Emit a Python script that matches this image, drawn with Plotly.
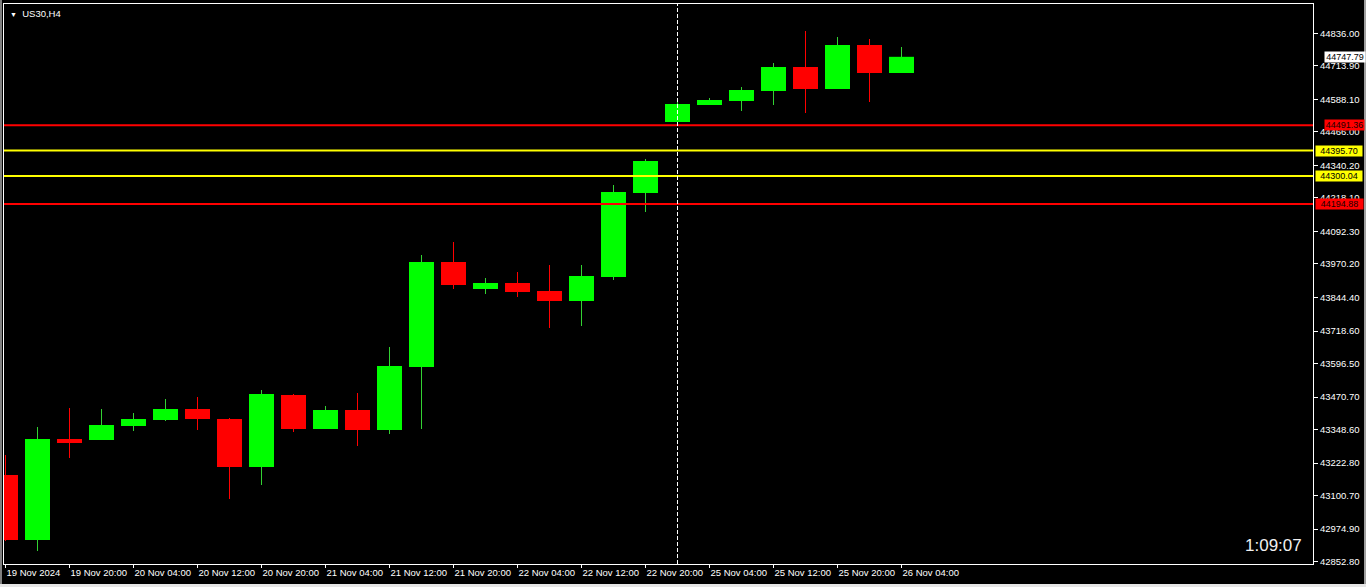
import plotly.graph_objects as go

# ---------------- data ----------------
times = ["19 Nov 12:00", "19 Nov 16:00", "19 Nov 20:00", "20 Nov 00:00", "20 Nov 04:00",
         "20 Nov 08:00", "20 Nov 12:00", "20 Nov 16:00", "20 Nov 20:00", "21 Nov 00:00",
         "21 Nov 04:00", "21 Nov 08:00", "21 Nov 12:00", "21 Nov 16:00", "21 Nov 20:00",
         "22 Nov 00:00", "22 Nov 04:00", "22 Nov 08:00", "22 Nov 12:00", "22 Nov 16:00",
         "22 Nov 20:00", "25 Nov 00:00", "25 Nov 04:00", "25 Nov 08:00", "25 Nov 12:00",
         "25 Nov 16:00", "25 Nov 20:00", "26 Nov 00:00", "26 Nov 04:00"]
opens = [43178.2, 42934.2, 43313.3, 43309.5, 43362.1, 43384.6, 43425.9, 43388.4, 43208.2, 43478.4,
         43350.8, 43422.1, 43347.1, 43583.5, 43977.6, 43876.3, 43898.8, 43868.8, 43831.3, 43921.3,
         44236.6, 44503.1, 44566.9, 44581.9, 44619.4, 44709.5, 44626.9, 44792.1, 44687.0]
highs = [43253.2, 43358.3, 43429.6, 43425.9, 43410.9, 43463.4, 43470.9, 43392.1, 43497.2, 43482.2,
         43437.1, 43485.9, 43658.6, 44003.9, 44052.7, 43917.6, 43940.1, 43966.4, 43966.4, 44266.6,
         44364.2, 44589.4, 44593.2, 44634.5, 44724.5, 44844.6, 44822.1, 44814.6, 44784.6]
lows = [42930.5, 42892.9, 43242.0, 43309.5, 43343.3, 43380.8, 43347.1, 43088.1, 43140.7, 43339.6,
        43350.8, 43287.0, 43332.1, 43350.8, 43876.3, 43857.5, 43846.3, 43729.9, 43737.4, 43910.1,
        44165.3, 44488.1, 44566.9, 44544.4, 44566.9, 44536.9, 44626.9, 44578.2, 44687.0]
closes = [42934.2, 43313.3, 43298.3, 43365.8, 43388.4, 43425.9, 43388.4, 43208.2, 43482.2, 43350.8,
          43422.1, 43347.1, 43587.3, 43977.6, 43891.3, 43898.8, 43865.0, 43831.3, 43925.1, 44240.4,
          44356.7, 44570.6, 44585.7, 44623.2, 44709.5, 44626.9, 44792.1, 44687.0, 44747.79]

x_tick_labels = ["19 Nov 2024", "19 Nov 20:00", "20 Nov 04:00", "20 Nov 12:00", "20 Nov 20:00",
                 "21 Nov 04:00", "21 Nov 12:00", "21 Nov 20:00", "22 Nov 04:00", "22 Nov 12:00",
                 "22 Nov 20:00", "25 Nov 04:00", "25 Nov 12:00", "25 Nov 20:00", "26 Nov 04:00"]
y_tick_values = [44836.00, 44713.90, 44588.10, 44466.00, 44340.20, 44218.10, 44092.30, 43970.20,
                 43844.40, 43718.60, 43596.50, 43470.70, 43348.60, 43222.80, 43100.70, 42974.90,
                 42852.80]
red_levels = [44491.36, 44194.88]
yellow_levels = [44395.70, 44300.04]
current_price = 44747.79
separator_time = "25 Nov 00:00"
symbol_text = "US30,H4"
timer_text = "1:09:07"

# ---------------- figure ----------------
FONT = "Liberation Sans, Arial, sans-serif"
BULL, BEAR = "#00FF00", "#FF0000"
BULL_WICK, BEAR_WICK = "#32D232", "#FF0000"

xs = list(range(len(times)))
bull = [c >= o for o, c in zip(opens, closes)]
body_base = [min(o, c) for o, c in zip(opens, closes)]
body_h = [abs(c - o) for o, c in zip(opens, closes)]
wick_h = [h - l for h, l in zip(highs, lows)]

fig = go.Figure()
fig.add_trace(go.Bar(x=xs, y=wick_h, base=lows, width=1 / 32,
                     marker=dict(color=[BULL_WICK if b else BEAR_WICK for b in bull], line=dict(width=0)),
                     hoverinfo="skip"))
fig.add_trace(go.Bar(x=xs, y=body_h, base=body_base, width=25 / 32,
                     marker=dict(color=[BULL if b else BEAR for b in bull], line=dict(width=0)),
                     customdata=list(zip(times, opens, highs, lows, closes)),
                     hovertemplate="%{customdata[0]}<br>O %{customdata[1]}<br>H %{customdata[2]}"
                                   "<br>L %{customdata[3]}<br>C %{customdata[4]}<extra></extra>"))

shapes = []
for lv in red_levels:
    shapes.append(dict(type="line", xref="paper", x0=0, x1=1, yref="y", y0=lv, y1=lv,
                       line=dict(color="#FF0000", width=2)))
for lv in yellow_levels:
    shapes.append(dict(type="line", xref="paper", x0=0, x1=1, yref="y", y0=lv, y1=lv,
                       line=dict(color="#FFFF00", width=2)))
sep_x = times.index(separator_time)
shapes.append(dict(type="line", xref="x", x0=sep_x, x1=sep_x, yref="paper", y0=0, y1=1,
                   line=dict(color="white", width=1, dash="4px,2px")))

# window frame strips (plot area spans px 4..1313 x 4..564)
PW, PH = 1309.0, 560.0
def px_x(p):
    return (p - 4) / PW
def px_y(p):
    return (564 - p) / PH
shapes.append(dict(type="rect", xref="paper", yref="paper", x0=px_x(1364), x1=px_x(1366.5),
                   y0=px_y(588), y1=px_y(-1), fillcolor="#A0A0A0", line=dict(width=0), layer="below"))
shapes.append(dict(type="rect", xref="paper", yref="paper", x0=px_x(-1), x1=px_x(1366.5),
                   y0=px_y(588), y1=px_y(584), fillcolor="#E6E6E6", line=dict(width=0), layer="below"))
shapes.append(dict(type="rect", xref="paper", yref="paper", x0=px_x(-1), x1=px_x(2),
                   y0=px_y(584), y1=px_y(-1), fillcolor="#808080", line=dict(width=0), layer="below"))

annotations = []
# price labels on the right scale: (value, background, text colour, x offset, box width)
label_specs = [(current_price, "#FFFFFF", "#000000", 11, 40)]
label_specs += [(red_levels[0], "#FF0000", "#200000", 11, 39), (red_levels[1], "#FF0000", "#200000", 2, 47)]
label_specs += [(lv, "#FFFF00", "#000000", 2, 46) for lv in yellow_levels]
for lv, bg, fg, shift, w in label_specs:
    annotations.append(dict(xref="paper", x=1, xanchor="left", xshift=shift, yref="y", y=lv,
                            yanchor="middle", text=f"{lv:.2f}", showarrow=False, bgcolor=bg,
                            width=w, height=10, borderpad=0, align="center",
                            font=dict(family=FONT, size=9, color=fg)))
annotations.append(dict(xref="paper", yref="paper", x=0, y=1, xanchor="left", yanchor="top",
                        xshift=4, yshift=-2, showarrow=False,
                        text="<span style='font-size:7px'>▼</span>  " + symbol_text,
                        font=dict(family=FONT, size=9.5, color="white")))
annotations.append(dict(xref="paper", yref="paper", x=1, y=px_y(545), xanchor="right",
                        yanchor="middle", xshift=-9, showarrow=False, text=timer_text,
                        font=dict(family=FONT, size=17, color="#F0F0F0")))

fig.update_layout(
    width=1366, height=587,
    margin=dict(l=4, r=53, t=4, b=23),
    paper_bgcolor="black", plot_bgcolor="black",
    barmode="overlay", showlegend=False,
    shapes=shapes, annotations=annotations,
    xaxis=dict(range=[-1.5 / 32, (1313 - 5.5) / 32], tickmode="array",
               tickvals=xs[::2], ticktext=x_tick_labels, tickangle=0,
               ticks="outside", ticklen=3, tickcolor="white",
               ticklabelposition="outside right",
               tickfont=dict(family=FONT, size=9.5, color="white"),
               showgrid=False, zeroline=False, showline=True, linecolor="white",
               linewidth=1, mirror=True),
    yaxis=dict(side="right", range=[42844.1, 44946.0], tickmode="array",
               tickvals=y_tick_values, tickformat=".2f",
               ticks="outside", ticklen=4, tickcolor="white",
               tickfont=dict(family=FONT, size=9.5, color="white"),
               showgrid=False, zeroline=False, showline=True, linecolor="white",
               linewidth=1, mirror=True),
)

fig.write_html("out.html", config={"displayModeBar": False},
               post_script="document.body.style.margin='0px';document.body.style.overflow='hidden';")
